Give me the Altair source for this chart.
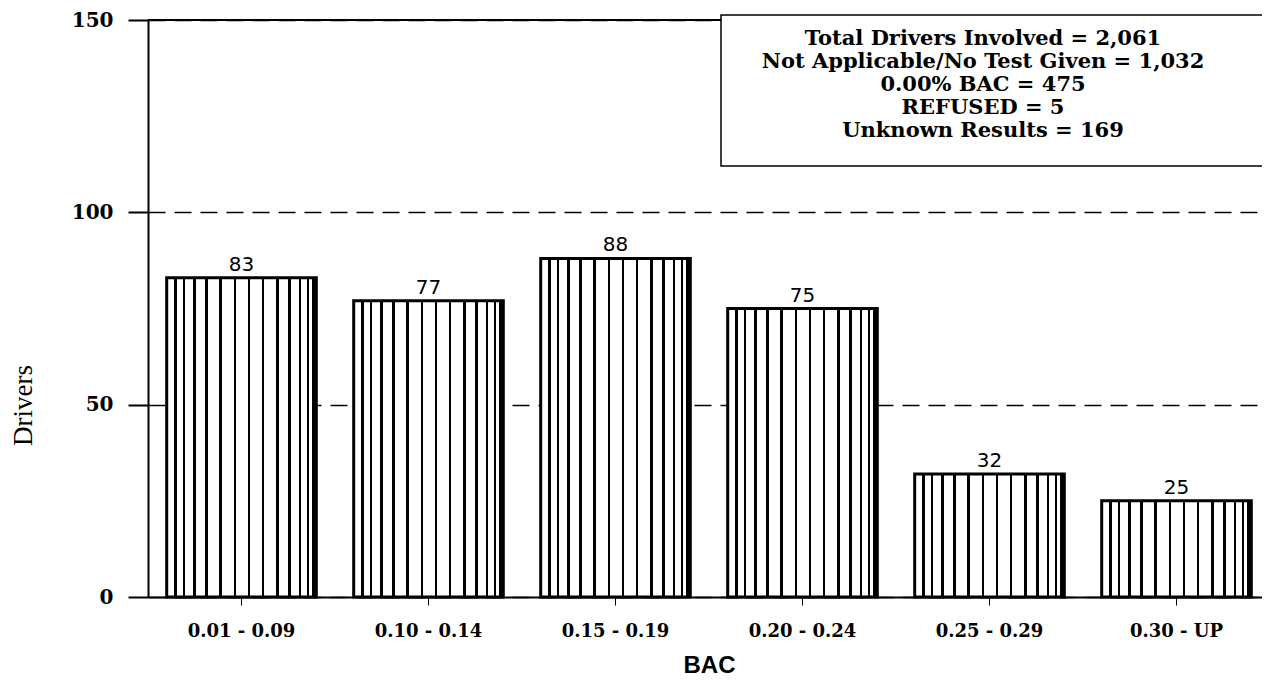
import altair as alt
import pandas as pd

# ---- data ----
bac_ranges = ["0.01 - 0.09", "0.10 - 0.14", "0.15 - 0.19", "0.20 - 0.24", "0.25 - 0.29", "0.30 - UP"]
drivers = [83, 77, 88, 75, 32, 25]
y_ticks = [0, 50, 100, 150]
y_max = 150
note_lines = [
    "Total Drivers Involved = 2,061",
    "Not Applicable/No Test Given = 1,032",
    "0.00% BAC = 475",
    "REFUSED = 5",
    "Unknown Results = 169",
]

df = pd.DataFrame({"BAC": bac_ranges, "Drivers": drivers})
top_df = pd.DataFrame({"Drivers": [y_max]})

# ---- vertical stripe fill (style only) ----
stripe_pos = [0.06, 0.115, 0.185, 0.265, 0.36, 0.455, 0.55, 0.645, 0.74, 0.82, 0.89, 0.945, 0.98]
half = 0.008
stops = [alt.GradientStop(offset=0, color="white")]
for p in stripe_pos:
    stops += [
        alt.GradientStop(offset=p - half, color="white"),
        alt.GradientStop(offset=p - half, color="black"),
        alt.GradientStop(offset=p + half, color="black"),
        alt.GradientStop(offset=p + half, color="white"),
    ]
stops.append(alt.GradientStop(offset=1, color="white"))
stripes = alt.LinearGradient(gradient="linear", stops=stops, x1=0, x2=1, y1=0, y2=0)

W, H = 1114, 577

x_enc = alt.X(
    "BAC:N",
    sort=bac_ranges,
    scale=alt.Scale(paddingInner=0.2, paddingOuter=0.1, range=[0, 1122]),
    axis=alt.Axis(
        title="BAC",
        titleFont="Liberation Sans",
        titleFontWeight="bold",
        titleFontSize=24,
        titleColor="black",
        titleY=68,
        titleAlign="center",
        titleBaseline="middle",
        labelAngle=0,
        labelFont="DejaVu Serif",
        labelFontWeight="bold",
        labelFontSize=18,
        labelColor="black",
        labelPadding=17,
        tickSize=8,
        tickWidth=1,
        tickColor="black",
        domainColor="black",
        domainWidth=2,
        grid=False,
    ),
)

y_scale = alt.Scale(domain=[0, y_max], nice=False)
y_enc = alt.Y(
    "Drivers:Q",
    scale=y_scale,
    axis=alt.Axis(
        values=y_ticks,
        grid=True,
        gridDash=[17, 9],
        gridColor="black",
        gridWidth=1.5,
        gridOpacity=1,
        domainColor="black",
        domainWidth=2,
        tickColor="black",
        tickSize=20,
        tickWidth=2,
        labelFont="DejaVu Serif",
        labelFontWeight="bold",
        labelFontSize=20,
        labelColor="black",
        labelPadding=15,
        title="Drivers",
        titleFont="Liberation Serif",
        titleFontSize=27,
        titleFontWeight="normal",
        titleColor="black",
        titleAngle=-90,
        titleX=-125,
        titleY=385,
        titleAlign="center",
        titleBaseline="middle",
    ),
)

bars = alt.Chart(df).mark_bar(fill=stripes, stroke="black", strokeWidth=3).encode(x=x_enc, y=y_enc)

labels = alt.Chart(df).mark_text(
    font="DejaVu Sans", fontSize=20, baseline="bottom", dy=-3, color="black"
).encode(x=alt.X("BAC:N", sort=bac_ranges), y=alt.Y("Drivers:Q", scale=y_scale), text="Drivers:Q")

top_line = alt.Chart(top_df).mark_rule(color="black", strokeWidth=2).encode(
    y=alt.Y("Drivers:Q", scale=y_scale)
)

box = alt.Chart(top_df).mark_rect(fill="white", stroke="black", strokeWidth=1.5).encode(
    x=alt.value(573), x2=alt.value(1130), y=alt.value(-5), y2=alt.value(146)
)

note = alt.Chart(top_df).mark_text(
    text=note_lines,
    font="DejaVu Serif",
    fontWeight="bold",
    fontSize=21,
    lineHeight=23,
    align="center",
    baseline="middle",
    color="black",
).encode(x=alt.value(835), y=alt.value(19))

chart = (
    alt.layer(bars, labels, top_line, box, note)
    .properties(
        width=W,
        height=H,
        autosize=alt.AutoSizeParams(type="none"),
        padding={"left": 140, "top": 12, "right": 0, "bottom": 83},
        background="white",
    )
    .configure_view(stroke=None)
)

chart.save("out.html", embed_options={"renderer": "svg", "actions": False})
